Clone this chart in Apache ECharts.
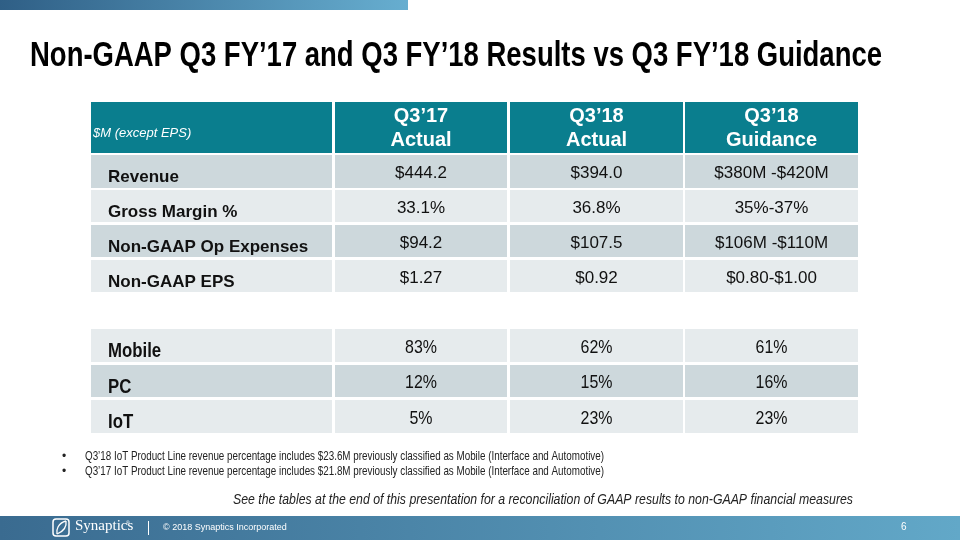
<!DOCTYPE html>
<html><head><meta charset="utf-8">
<script src="https://cdn.jsdelivr.net/npm/echarts@6/dist/echarts.min.js"></script>
<style>html,body{margin:0;padding:0;background:#fff}#c{width:960px;height:540px}</style>
</head><body><div id="c"></div>
<script>
// ---- data ----
const titleText = 'Non-GAAP Q3 FY’17 and Q3 FY’18 Results vs Q3 FY’18 Guidance';
const unitNote = '$M (except EPS)';
const columnHeads = ['Q3’17\nActual', 'Q3’18\nActual', 'Q3’18\nGuidance'];
const metrics = ['Revenue', 'Gross Margin %', 'Non-GAAP Op Expenses', 'Non-GAAP EPS'];
const q317Actual = ['$444.2', '33.1%', '$94.2', '$1.27'];
const q318Actual = ['$394.0', '36.8%', '$107.5', '$0.92'];
const q318Guidance = ['$380M -$420M', '35%-37%', '$106M -$110M', '$0.80-$1.00'];
const segments = ['Mobile', 'PC', 'IoT'];
const segQ317Actual = [83, 12, 5];
const segQ318Actual = [62, 15, 23];
const segQ318Guidance = [61, 16, 23];
const footnotes = [
  'Q3’18 IoT Product Line revenue percentage includes $23.6M previously classified as Mobile (Interface and Automotive)',
  'Q3’17 IoT Product Line revenue percentage includes $21.8M previously classified as Mobile (Interface and Automotive)'
];
const reconciliationNote = 'See the tables at the end of this presentation for a reconciliation of GAAP results to non-GAAP financial measures';
const copyrightText = '© 2018 Synaptics Incorporated';
const pageNumber = '6';

// ---- layout ----
const colEdges = [[0, 241], [244, 416], [419, 592], [594, 767]];
const headRow = [0, 51];
const topRows = [[53, 86], [88, 120], [123, 155], [158, 190]];
const segRows = [[227, 260], [263, 295], [298, 331]];
const TEAL = '#0a7e8e', DARK = '#cdd8dc', LIGHT = '#e6ebed';
const WIDE = '"Liberation Sans", Arial, sans-serif';
const NARROW_SCALE = 0.84;

const measureCtx = document.createElement('canvas').getContext('2d');
function fitScale(text, font, target) {
  measureCtx.font = font;
  return target / measureCtx.measureText(text).width;
}

const cells = [];
cells.push({c: 0, r: headRow, fill: TEAL, text: unitNote, align: 'left', font: 'italic 13px ' + WIDE, color: '#fff', dy: 6, lh: 16, sx: 1, pad: 2});
columnHeads.forEach((h, i) => cells.push({c: i + 1, r: headRow, fill: TEAL, text: h, align: 'center', font: 'bold 20px ' + WIDE, color: '#fff', dy: 1, lh: 24, sx: 1}));
const topVals = [q317Actual, q318Actual, q318Guidance];
metrics.forEach((m, ri) => {
  const fill = ri % 2 === 0 ? DARK : LIGHT;
  cells.push({c: 0, r: topRows[ri], fill, text: m, align: 'left', font: 'bold 17px ' + WIDE, color: '#111', dy: 6, lh: 20, sx: 1, pad: 17});
  topVals.forEach((arr, ci) => cells.push({c: ci + 1, r: topRows[ri], fill, text: arr[ri], align: 'center', font: '17px ' + WIDE, color: '#111', dy: 2, lh: 20, sx: 1}));
});
const segVals = [segQ317Actual, segQ318Actual, segQ318Guidance];
segments.forEach((s, ri) => {
  const fill = ri % 2 === 1 ? DARK : LIGHT;
  cells.push({c: 0, r: segRows[ri], fill, text: s, align: 'left', font: 'bold 20px ' + WIDE, color: '#111', dy: 6, lh: 22, sx: NARROW_SCALE, pad: 17});
  segVals.forEach((arr, ci) => cells.push({c: ci + 1, r: segRows[ri], fill, text: arr[ri] + '%', align: 'center', font: '19px ' + WIDE, color: '#111', dy: 2, lh: 22, sx: NARROW_SCALE}));
});

const titleFont = 'bold 35px ' + WIDE;
const titleScale = fitScale(titleText, titleFont, 852);
const noteFont = '13px ' + WIDE;
const noteScale = fitScale(footnotes[0], noteFont, 519);
const italFont = 'italic 14px ' + WIDE;
const italScale = fitScale(reconciliationNote, italFont, 620);

const chart = echarts.init(document.getElementById('c'), null, {renderer: 'canvas'});
chart.setOption({
  animation: false,
  backgroundColor: '#fff',
  grid: {left: 91, top: 102, width: 767, height: 331},
  xAxis: {type: 'value', min: 0, max: 767, show: false},
  yAxis: {type: 'value', min: 0, max: 331, inverse: true, show: false},
  series: [{
    type: 'custom',
    coordinateSystem: 'cartesian2d',
    data: cells.map(c => [colEdges[c.c][0], c.r[0], colEdges[c.c][1], c.r[1]]),
    renderItem: function (params, api) {
      const cell = cells[params.dataIndex];
      const p0 = api.coord([api.value(0), api.value(1)]);
      const p1 = api.coord([api.value(2), api.value(3)]);
      const w = p1[0] - p0[0], h = p1[1] - p0[1];
      const tx = cell.align === 'left' ? p0[0] + cell.pad : p0[0] + w / 2;
      return {
        type: 'group',
        children: [
          {type: 'rect', shape: {x: p0[0], y: p0[1], width: w, height: h}, style: {fill: cell.fill}},
          {type: 'text', x: tx, y: p0[1] + h / 2 + cell.dy, scaleX: cell.sx, style: {
            text: cell.text, x: 0, y: 0,
            align: cell.align, verticalAlign: 'middle',
            font: cell.font, fill: cell.color, lineHeight: cell.lh
          }}
        ]
      };
    }
  }],
  graphic: [
    {type: 'rect', x: 0, y: 0, shape: {x: 0, y: 0, width: 408, height: 10}, style: {
      fill: new echarts.graphic.LinearGradient(0, 0, 1, 0, [{offset: 0, color: '#2f5f86'}, {offset: 1, color: '#67aed0'}])}},
    {type: 'text', x: 30, y: 56, scaleX: titleScale, style: {text: titleText, font: titleFont, fill: '#000', verticalAlign: 'middle'}},
    {type: 'rect', x: 0, y: 516, shape: {x: 0, y: 0, width: 960, height: 24}, style: {
      fill: new echarts.graphic.LinearGradient(0, 0, 1, 0, [{offset: 0, color: '#3a6b90'}, {offset: 1, color: '#62a8c8'}])}},
    {type: 'text', x: 62, y: 449, style: {text: '•\n•', font: '12px ' + WIDE, fill: '#222', lineHeight: 15}},
    {type: 'text', x: 85, y: 449, scaleX: noteScale, style: {text: footnotes.join('\n'), font: noteFont, fill: '#222', lineHeight: 15}},
    {type: 'text', x: 853, y: 493, scaleX: italScale, style: {text: reconciliationNote, font: italFont, fill: '#222', align: 'right'}},
    // footer logo
    {type: 'rect', x: 53, y: 519, shape: {x: 0, y: 0, width: 16, height: 17, r: 3}, style: {fill: 'none', stroke: '#fff', lineWidth: 1.5}},
    {type: 'bezierCurve', shape: {x1: 66, y1: 521, x2: 57, y2: 534, cpx1: 58, cpy1: 523, cpx2: 56, cpy2: 530}, style: {fill: 'none', stroke: '#fff', lineWidth: 1.3}},
    {type: 'bezierCurve', shape: {x1: 66, y1: 521, x2: 57, y2: 534, cpx1: 67, cpy1: 528, cpx2: 62, cpy2: 532}, style: {fill: 'none', stroke: '#fff', lineWidth: 1.3}},
    {type: 'text', x: 75, y: 519, style: {text: 'Synaptics', font: '15px "Liberation Serif", "DejaVu Serif", serif', fill: '#fff'}},
    {type: 'text', x: 126, y: 521, style: {text: '®', font: '5px sans-serif', fill: '#fff'}},
    {type: 'rect', x: 148, y: 521, shape: {x: 0, y: 0, width: 1, height: 14}, style: {fill: '#fff'}},
    {type: 'text', x: 163, y: 523, style: {text: copyrightText, font: '9px ' + WIDE, fill: '#fff'}},
    {type: 'text', x: 901, y: 522, style: {text: pageNumber, font: '10px ' + WIDE, fill: '#fff'}}
  ]
});
</script></body></html>
